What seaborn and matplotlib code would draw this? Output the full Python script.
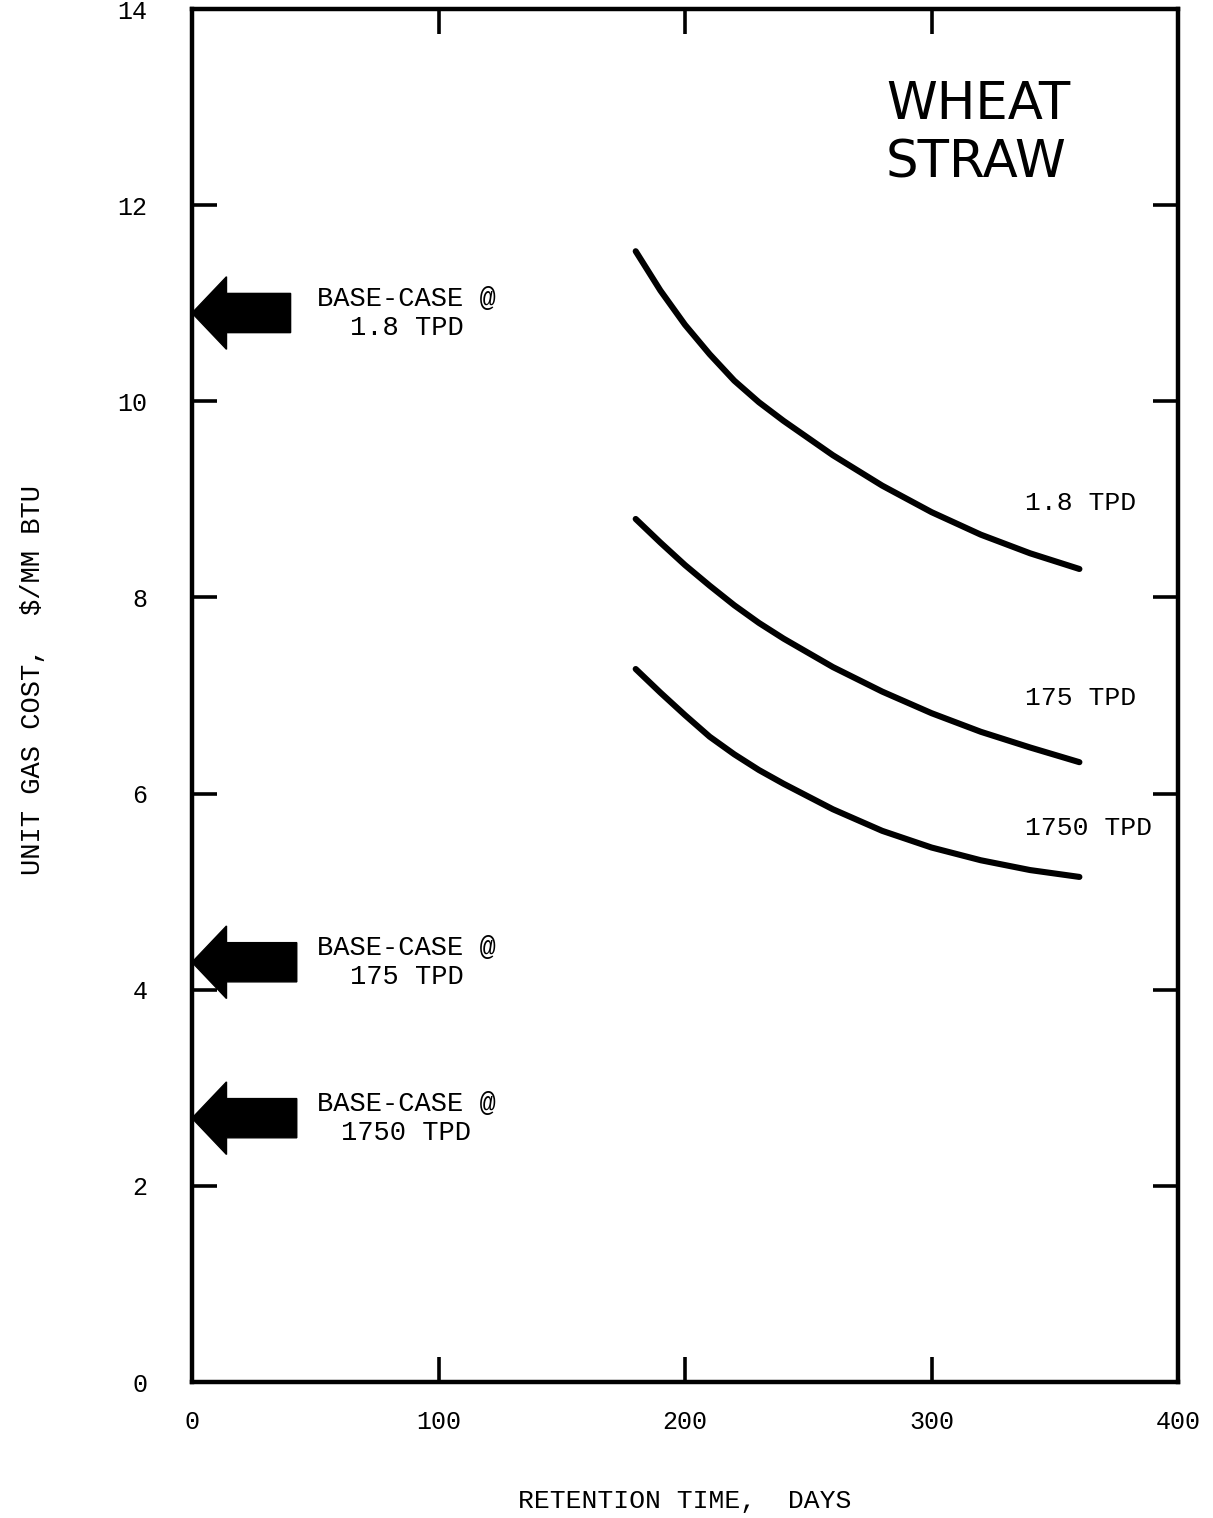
import matplotlib
matplotlib.use("Agg")
import matplotlib.pyplot as plt
from matplotlib.patches import FancyArrow
import numpy as np
import pandas as pd
import seaborn as sns

# Unit gas cost ($/MM BTU) versus digester retention time (days), wheat straw feed
retention_days = [180, 190, 200, 210, 220, 230, 240, 260, 280, 300, 320, 340, 360]
cost_1p8_tpd = [11.53, 11.13, 10.78, 10.48, 10.21, 9.99, 9.80, 9.45, 9.14, 8.87, 8.64, 8.45, 8.29]
cost_175_tpd = [8.80, 8.56, 8.33, 8.12, 7.92, 7.74, 7.58, 7.29, 7.04, 6.82, 6.63, 6.47, 6.32]
cost_1750_tpd = [7.27, 7.03, 6.80, 6.58, 6.40, 6.24, 6.10, 5.84, 5.62, 5.45, 5.32, 5.22, 5.15]
plant_sizes = ["1.8 TPD", "175 TPD", "1750 TPD"]

# Base-case unit gas cost for each plant size
base_case_costs = [10.9, 4.28, 2.69]
base_case_labels = ["BASE-CASE @\n1.8 TPD", "BASE-CASE @\n175 TPD", "BASE-CASE @\n1750 TPD"]

x_ticks = [0, 100, 200, 300, 400]
y_ticks = [0, 2, 4, 6, 8, 10, 12, 14]

df = pd.DataFrame({
    "days": retention_days * 3,
    "cost": cost_1p8_tpd + cost_175_tpd + cost_1750_tpd,
    "plant": [p for p in plant_sizes for _ in retention_days],
})

sns.set_theme(style="white")
plt.rcParams["font.family"] = ["Liberation Mono", "DejaVu Sans Mono"]
plt.rcParams["text.color"] = "black"
plt.rcParams["axes.labelcolor"] = "black"
plt.rcParams["xtick.color"] = "black"
plt.rcParams["ytick.color"] = "black"

fig = plt.figure(figsize=(12.13, 15.18), dpi=100)
ax = fig.add_axes([192 / 1213, 136 / 1518, 986 / 1213, 1373 / 1518])

sns.lineplot(data=df, x="days", y="cost", hue="plant",
             palette=["black"] * 3, linewidth=4.4, legend=False, ax=ax,
             solid_capstyle="round", solid_joinstyle="round")

ax.set_xlim(0, 400)
ax.set_ylim(0, 14)
ax.set_xticks(x_ticks)
ax.set_yticks(y_ticks)
ax.set_xticklabels([str(v) for v in x_ticks], fontsize=18)
ax.set_yticklabels([str(v) for v in y_ticks], fontsize=18)
ax.tick_params(axis="both", direction="in", length=18, width=2.6,
               top=True, right=True, bottom=True, left=True, colors="black")
ax.tick_params(axis="x", pad=20)
ax.tick_params(axis="y", pad=32)
for spine in ax.spines.values():
    spine.set_visible(True)
    spine.set_color("black")
    spine.set_linewidth(3.2)

ax.set_xlabel("RETENTION TIME,  DAYS", fontsize=19, labelpad=40)
ax.set_ylabel("")
fig.text(33 / 1213, 1 - 680 / 1518, "UNIT GAS COST,  $/MM BTU",
         rotation=90, ha="center", va="center", fontsize=19.5)

# Curve labels
label_y = [8.96, 6.97, 5.65]
for name, yv in zip(plant_sizes, label_y):
    ax.text(338, yv, name, ha="left", va="center", fontsize=19)

# Base-case arrows pointing at the cost axis
arrow_tails = [40, 42.5, 42.5]
for cost, tail, text in zip(base_case_costs, arrow_tails, base_case_labels):
    ax.add_patch(FancyArrow(tail, cost, -tail, 0, width=0.40, head_width=0.74,
                            head_length=14, length_includes_head=True,
                            color="black", clip_on=False, zorder=3))
    ax.text(87, cost, text, ha="center", va="center", fontsize=19.5,
            multialignment="center", linespacing=1.15)

ax.text(281.5, 12.72, "WHEAT\nSTRAW", ha="left", va="center", fontsize=37,
        family="DejaVu Sans", fontweight="medium", linespacing=1.22)

fig.savefig("out.png", dpi=100, facecolor="white")
